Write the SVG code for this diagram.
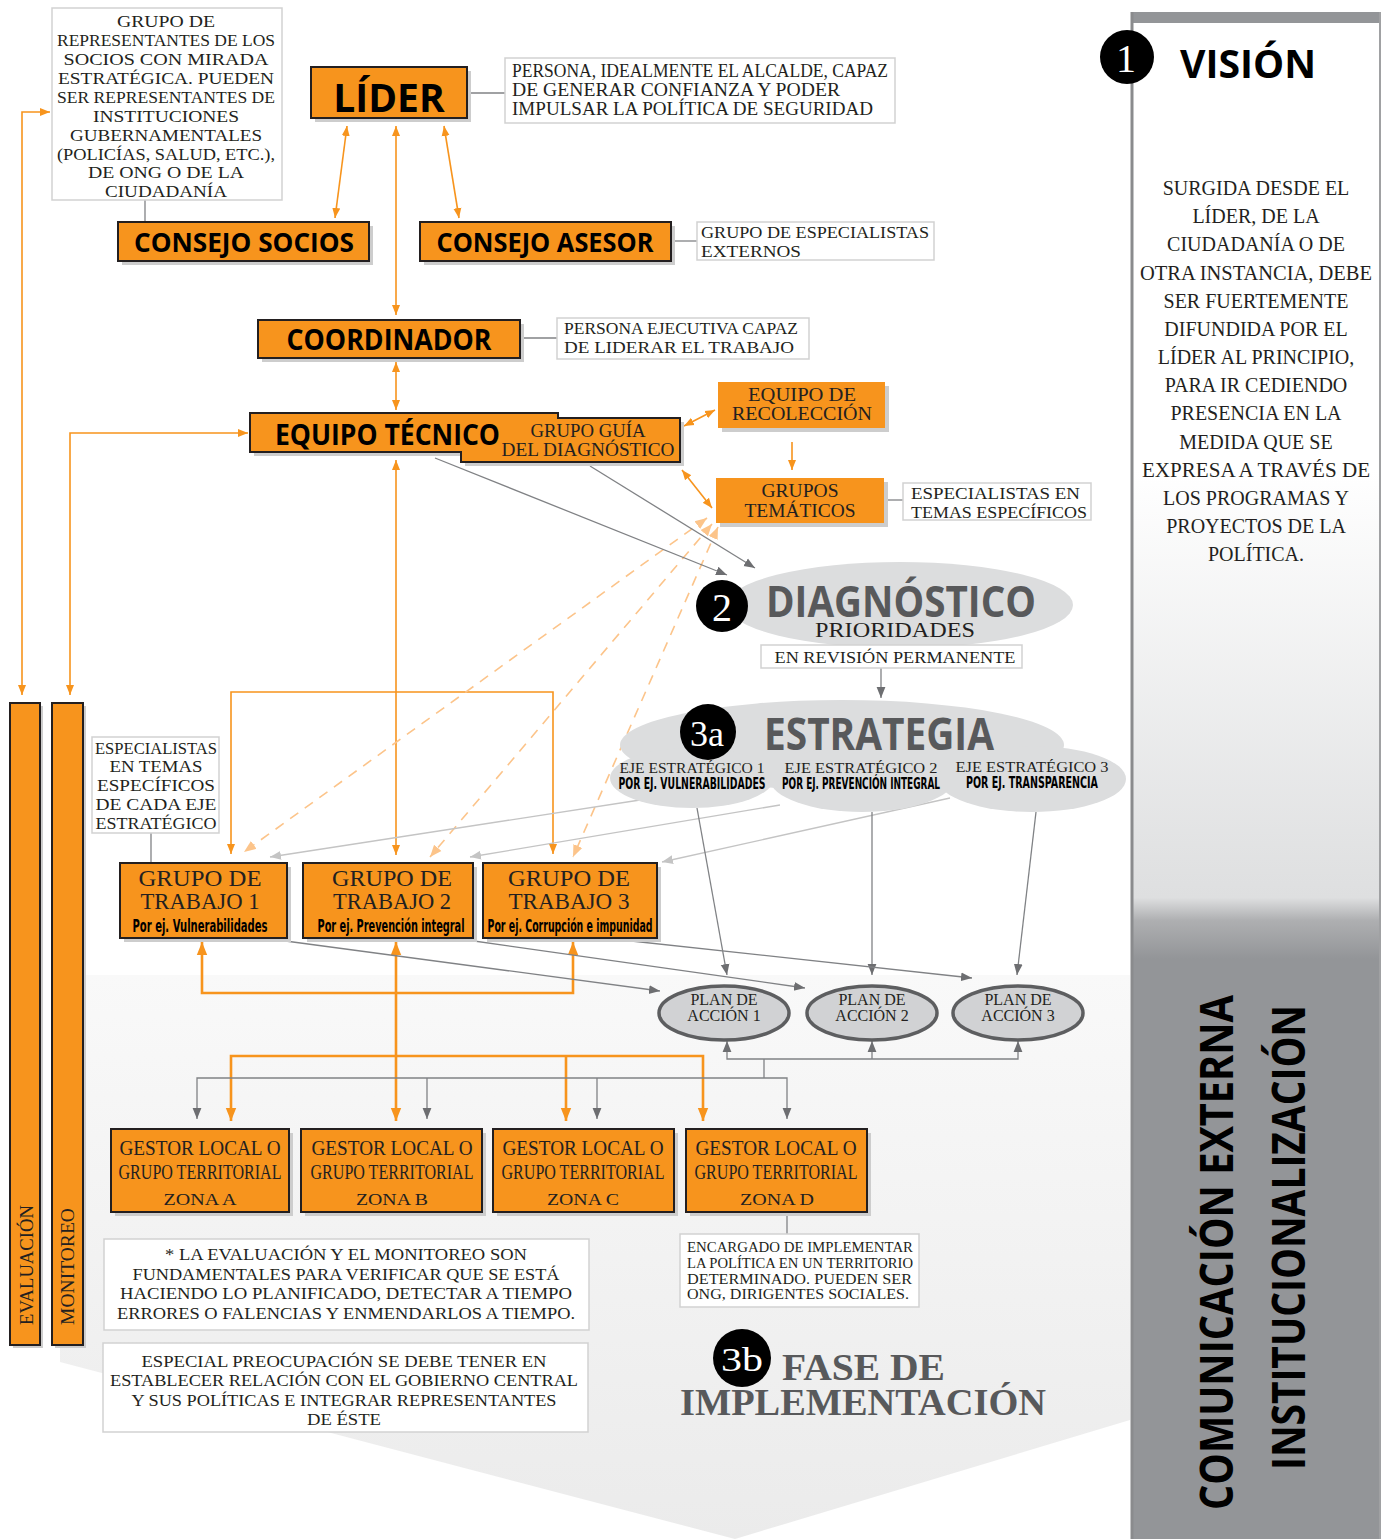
<svg xmlns="http://www.w3.org/2000/svg" width="1384" height="1539" viewBox="0 0 1384 1539">
<style>
.ob{fill:#f7941d;stroke:#231f20;stroke-width:2}
.of{fill:#f7941d}
.sh{fill:#cdcdcd}
.nb{fill:#fff;stroke:#d2d2d2;stroke-width:1.5}
.t{font-family:"Liberation Serif","Times New Roman",serif;fill:#231f20}
.b{font-family:"Open Sans","Liberation Sans",sans-serif;font-weight:700;fill:#000}
.g{fill:#58595b}
.c{font-family:"Liberation Sans Narrow","DejaVu Sans Condensed","Liberation Sans",sans-serif;font-weight:700;fill:#000}
.m{text-anchor:middle}
.w{fill:#fff}
.lo{stroke:#f7941d;stroke-width:1.6;fill:none}
.lt{stroke:#f7941d;stroke-width:2.6;fill:none}
.lg{stroke:#808285;stroke-width:1.3;fill:none}
.ll{stroke:#c4c4c4;stroke-width:1.3;fill:none}
.ld{stroke:#fcc48a;stroke-width:1.6;stroke-dasharray:10 8;fill:none}
.el{fill:#dcddde}
.pl{fill:#d1d2d4;stroke:#5d5e60;stroke-width:3.5}
</style>
<defs>
<linearGradient id="pg" x1="0" y1="12" x2="0" y2="1539" gradientUnits="userSpaceOnUse">
<stop offset="0" stop-color="#ffffff"/>
<stop offset="0.3" stop-color="#ffffff"/>
<stop offset="0.58" stop-color="#dedfe0"/>
<stop offset="0.595" stop-color="#aeafb1"/>
<stop offset="0.62" stop-color="#939598"/>
<stop offset="1" stop-color="#939598"/>
</linearGradient>
<linearGradient id="bg" x1="0" y1="0" x2="0" y2="1">
<stop offset="0" stop-color="#f9f9f9"/>
<stop offset="1" stop-color="#ebebeb"/>
</linearGradient>
<marker id="ao" viewBox="0 0 10 10" refX="10" refY="5" markerWidth="10" markerHeight="10" markerUnits="userSpaceOnUse" orient="auto-start-reverse"><path d="M0,1 L10,5 L0,9 z" fill="#f7941d"/></marker>
<marker id="at" viewBox="0 0 10 10" refX="10" refY="5" markerWidth="13" markerHeight="13" markerUnits="userSpaceOnUse" orient="auto-start-reverse"><path d="M0,1 L10,5 L0,9 z" fill="#f7941d"/></marker>
<marker id="ad" viewBox="0 0 10 10" refX="10" refY="5" markerWidth="12" markerHeight="12" markerUnits="userSpaceOnUse" orient="auto-start-reverse"><path d="M0,1 L10,5 L0,9 z" fill="#fcc48a"/></marker>
<marker id="ag" viewBox="0 0 10 10" refX="10" refY="5" markerWidth="11" markerHeight="11" markerUnits="userSpaceOnUse" orient="auto-start-reverse"><path d="M0,1 L10,5 L0,9 z" fill="#6d6e71"/></marker>
<marker id="al" viewBox="0 0 10 10" refX="10" refY="5" markerWidth="11" markerHeight="11" markerUnits="userSpaceOnUse" orient="auto-start-reverse"><path d="M0,1 L10,5 L0,9 z" fill="#c4c4c4"/></marker>
</defs>

<rect width="1384" height="1539" fill="#ffffff"/>
<polygon points="60,975 1130,975 1130,1420 735,1539 60,1362" fill="url(#bg)"/>

<g id="panel-vision">
<rect x="1131" y="12" width="250" height="1527" fill="url(#pg)"/>
<rect x="1131" y="12" width="250" height="11" fill="#939598"/>
<line x1="1132" y1="12" x2="1132" y2="1539" stroke="#8a8b8d" stroke-width="3"/>
<line x1="1380" y1="12" x2="1380" y2="1539" stroke="#a0a1a3" stroke-width="2"/>
<circle cx="1127" cy="57" r="27" fill="#000"/>
<text class="t w m" x="1126" y="72" font-size="40">1</text>
<text class="b" x="1180" y="78" font-size="40" textLength="136" lengthAdjust="spacingAndGlyphs">VISIÓN</text>
<g class="t m" font-size="20">
<text x="1256" y="195">SURGIDA DESDE EL</text>
<text x="1256" y="223">LÍDER, DE LA</text>
<text x="1256" y="251">CIUDADANÍA O DE</text>
<text x="1256" y="280" textLength="232" lengthAdjust="spacingAndGlyphs">OTRA INSTANCIA, DEBE</text>
<text x="1256" y="308">SER FUERTEMENTE</text>
<text x="1256" y="336">DIFUNDIDA POR EL</text>
<text x="1256" y="364">LÍDER AL PRINCIPIO,</text>
<text x="1256" y="392">PARA IR CEDIENDO</text>
<text x="1256" y="420">PRESENCIA EN LA</text>
<text x="1256" y="449">MEDIDA QUE SE</text>
<text x="1256" y="477" textLength="228" lengthAdjust="spacingAndGlyphs">EXPRESA A TRAVÉS DE</text>
<text x="1256" y="505">LOS PROGRAMAS Y</text>
<text x="1256" y="533">PROYECTOS DE LA</text>
<text x="1256" y="561">POLÍTICA.</text>
</g>
<text class="b" transform="translate(1233,1510) rotate(-90)" font-size="46" textLength="515" lengthAdjust="spacingAndGlyphs">COMUNICACIÓN EXTERNA</text>
<text class="b" transform="translate(1305,1470) rotate(-90)" font-size="46" textLength="465" lengthAdjust="spacingAndGlyphs">INSTITUCIONALIZACIÓN</text>
</g>

<g id="connectors">
<line class="lg" x1="145" y1="200" x2="145" y2="222"/>
<line class="lg" x1="467" y1="93" x2="505" y2="93"/>
<line class="lg" x1="671" y1="241" x2="697" y2="241"/>
<line class="lg" x1="520" y1="338" x2="557" y2="338"/>
<line class="lg" x1="884" y1="500" x2="903" y2="500"/>
<line class="lg" x1="151" y1="833" x2="151" y2="862"/>
<line class="lg" x1="787" y1="1212" x2="787" y2="1234"/>

<line class="lo" x1="347" y1="126" x2="335" y2="218" marker-start="url(#ao)" marker-end="url(#ao)"/>
<line class="lo" x1="444" y1="126" x2="459" y2="218" marker-start="url(#ao)" marker-end="url(#ao)"/>
<line class="lo" x1="396" y1="126" x2="396" y2="315" marker-start="url(#ao)" marker-end="url(#ao)"/>
<line class="lo" x1="396" y1="362" x2="396" y2="410" marker-start="url(#ao)" marker-end="url(#ao)"/>
<line class="lo" x1="684" y1="426" x2="715" y2="410" marker-start="url(#ao)" marker-end="url(#ao)"/>
<line class="lo" x1="792" y1="442" x2="792" y2="470" marker-end="url(#ao)"/>
<line class="lo" x1="682" y1="470" x2="712" y2="508" marker-start="url(#ao)" marker-end="url(#ao)"/>
<path class="lo" d="M22,695 V112 H50" marker-start="url(#ao)" marker-end="url(#ao)"/>
<path class="lo" d="M70,695 V433 H248" marker-start="url(#ao)" marker-end="url(#ao)"/>
<line class="lo" x1="396" y1="460" x2="396" y2="855" marker-start="url(#ao)" marker-end="url(#ao)"/>
<path class="lo" d="M231,854 V692 H553 V854" marker-start="url(#ao)" marker-end="url(#ao)"/>

<path class="lt" d="M202,942 V993 H573 V942" marker-start="url(#at)" marker-end="url(#at)"/>
<line class="lt" x1="396" y1="942" x2="396" y2="1121" marker-start="url(#at)" marker-end="url(#at)"/>
<path class="lt" d="M231,1121 V1056 H703 V1121" marker-start="url(#at)" marker-end="url(#at)"/>
<line class="lt" x1="566" y1="1056" x2="566" y2="1121" marker-end="url(#at)"/>

<line class="ld" x1="707" y1="518" x2="244" y2="852" marker-start="url(#ad)" marker-end="url(#ad)"/>
<line class="ld" x1="712" y1="524" x2="430" y2="857" marker-start="url(#ad)" marker-end="url(#ad)"/>
<line class="ld" x1="718" y1="527" x2="573" y2="857" marker-start="url(#ad)" marker-end="url(#ad)"/>

<line class="lg" x1="435" y1="458" x2="727" y2="575" marker-end="url(#ag)"/>
<line class="lg" x1="590" y1="466" x2="755" y2="568" marker-end="url(#ag)"/>
<line class="lg" x1="881" y1="668" x2="881" y2="698" marker-end="url(#ag)"/>

<line class="ll" x1="640" y1="800" x2="270" y2="857" marker-end="url(#al)"/>
<line class="ll" x1="780" y1="805" x2="470" y2="857" marker-end="url(#al)"/>
<line class="ll" x1="950" y1="798" x2="662" y2="862" marker-end="url(#al)"/>

<line class="lg" x1="697" y1="808" x2="727" y2="975" marker-end="url(#ag)"/>
<line class="lg" x1="872" y1="812" x2="872" y2="975" marker-end="url(#ag)"/>
<line class="lg" x1="1036" y1="812" x2="1017" y2="975" marker-end="url(#ag)"/>
<line class="lg" x1="278" y1="940" x2="660" y2="991" marker-end="url(#ag)"/>
<line class="lg" x1="467" y1="940" x2="805" y2="988" marker-end="url(#ag)"/>
<line class="lg" x1="622" y1="940" x2="972" y2="978" marker-end="url(#ag)"/>

<path class="lg" d="M727,1041 V1059 H1018 V1041" marker-start="url(#ag)" marker-end="url(#ag)"/>
<line class="lg" x1="872" y1="1059" x2="872" y2="1041" marker-end="url(#ag)"/>
<line class="lg" x1="764" y1="1059" x2="764" y2="1078"/>
<path class="lg" d="M197,1119 V1078 H787 V1119" marker-start="url(#ag)" marker-end="url(#ag)"/>
<line class="lg" x1="427" y1="1078" x2="427" y2="1119" marker-end="url(#ag)"/>
<line class="lg" x1="597" y1="1078" x2="597" y2="1119" marker-end="url(#ag)"/>
</g>

<g id="note-socios">
<rect class="nb" x="52" y="8" width="230" height="192"/>
<g class="t m" font-size="17">
<text x="166" y="27" textLength="98" lengthAdjust="spacingAndGlyphs">GRUPO DE</text>
<text x="166" y="46" textLength="218" lengthAdjust="spacingAndGlyphs">REPRESENTANTES DE LOS</text>
<text x="166" y="65" textLength="205" lengthAdjust="spacingAndGlyphs">SOCIOS CON MIRADA</text>
<text x="166" y="84" textLength="216" lengthAdjust="spacingAndGlyphs">ESTRATÉGICA. PUEDEN</text>
<text x="166" y="103" textLength="218" lengthAdjust="spacingAndGlyphs">SER REPRESENTANTES DE</text>
<text x="166" y="122" textLength="146" lengthAdjust="spacingAndGlyphs">INSTITUCIONES</text>
<text x="166" y="141" textLength="192" lengthAdjust="spacingAndGlyphs">GUBERNAMENTALES</text>
<text x="166" y="160" textLength="218" lengthAdjust="spacingAndGlyphs">(POLICÍAS, SALUD, ETC.),</text>
<text x="166" y="178" textLength="156" lengthAdjust="spacingAndGlyphs">DE ONG O DE LA</text>
<text x="166" y="197" textLength="122" lengthAdjust="spacingAndGlyphs">CIUDADANÍA</text>
</g>
</g>

<g id="lider">
<rect class="sh" x="315" y="71" width="156" height="51"/>
<rect class="ob" x="311" y="67" width="156" height="51"/>
<text class="b m" x="389" y="112" font-size="39">LÍDER</text>
</g>
<g id="note-lider">
<rect class="nb" x="505" y="58" width="390" height="65"/>
<g class="t" font-size="18">
<text x="512" y="77" textLength="376" lengthAdjust="spacingAndGlyphs">PERSONA, IDEALMENTE EL ALCALDE, CAPAZ</text>
<text x="512" y="96" textLength="328" lengthAdjust="spacingAndGlyphs">DE GENERAR CONFIANZA Y PODER</text>
<text x="512" y="115" textLength="361" lengthAdjust="spacingAndGlyphs">IMPULSAR LA POLÍTICA DE SEGURIDAD</text>
</g>
</g>

<g id="consejo-socios">
<rect class="sh" x="122" y="226" width="251" height="39"/>
<rect class="ob" x="118" y="222" width="251" height="39"/>
<text class="b m" x="244" y="252" font-size="27" textLength="220" lengthAdjust="spacingAndGlyphs">CONSEJO SOCIOS</text>
</g>
<g id="consejo-asesor">
<rect class="sh" x="424" y="226" width="251" height="39"/>
<rect class="ob" x="420" y="222" width="251" height="39"/>
<text class="b m" x="545" y="252" font-size="27" textLength="217" lengthAdjust="spacingAndGlyphs">CONSEJO ASESOR</text>
</g>
<g id="note-asesor">
<rect class="nb" x="697" y="222" width="237" height="38"/>
<g class="t" font-size="17">
<text x="701" y="238" textLength="228" lengthAdjust="spacingAndGlyphs">GRUPO DE ESPECIALISTAS</text>
<text x="701" y="257" textLength="100" lengthAdjust="spacingAndGlyphs">EXTERNOS</text>
</g>
</g>

<g id="coordinador">
<rect class="sh" x="262" y="324" width="262" height="38"/>
<rect class="ob" x="258" y="320" width="262" height="38"/>
<text class="b m" x="389" y="350" font-size="28" textLength="205" lengthAdjust="spacingAndGlyphs">COORDINADOR</text>
</g>
<g id="note-coordinador">
<rect class="nb" x="557" y="318" width="252" height="41"/>
<g class="t" font-size="17">
<text x="564" y="334" textLength="234" lengthAdjust="spacingAndGlyphs">PERSONA EJECUTIVA CAPAZ</text>
<text x="564" y="353" textLength="230" lengthAdjust="spacingAndGlyphs">DE LIDERAR EL TRABAJO</text>
</g>
</g>

<g id="equipo-tecnico">
<path class="sh" d="M254,417 H562 V422 H684 V466 H465 V456 H254 Z"/>
<path class="ob" d="M250,413 H558 V418 H680 V462 H461 V452 H250 Z"/>
<text class="b" x="275" y="445" font-size="28" textLength="225" lengthAdjust="spacingAndGlyphs">EQUIPO TÉCNICO</text>
<g class="t m" font-size="18">
<text x="588" y="437" textLength="115" lengthAdjust="spacingAndGlyphs">GRUPO GUÍA</text>
<text x="588" y="456" textLength="173" lengthAdjust="spacingAndGlyphs">DEL DIAGNÓSTICO</text>
</g>
</g>

<g id="equipo-recoleccion">
<rect class="sh" x="722" y="386" width="167" height="46"/>
<rect class="of" x="718" y="382" width="167" height="46"/>
<g class="t m" font-size="18">
<text x="802" y="401" textLength="108" lengthAdjust="spacingAndGlyphs">EQUIPO DE</text>
<text x="802" y="420" textLength="140" lengthAdjust="spacingAndGlyphs">RECOLECCIÓN</text>
</g>
</g>

<g id="grupos-tematicos">
<rect class="sh" x="720" y="482" width="168" height="45"/>
<rect class="of" x="716" y="478" width="168" height="45"/>
<g class="t m" font-size="18">
<text x="800" y="497" textLength="77" lengthAdjust="spacingAndGlyphs">GRUPOS</text>
<text x="800" y="517" textLength="111" lengthAdjust="spacingAndGlyphs">TEMÁTICOS</text>
</g>
</g>
<g id="note-tematicos">
<rect class="nb" x="903" y="483" width="188" height="37"/>
<g class="t" font-size="17">
<text x="911" y="499" textLength="169" lengthAdjust="spacingAndGlyphs">ESPECIALISTAS EN</text>
<text x="911" y="518" textLength="176" lengthAdjust="spacingAndGlyphs">TEMAS ESPECÍFICOS</text>
</g>
</g>

<g id="diagnostico">
<ellipse class="el" cx="900" cy="605" rx="173" ry="43"/>
<circle cx="722" cy="606" r="26" fill="#000"/>
<text class="t w m" x="722" y="621" font-size="40">2</text>
<text class="b g" x="766" y="617" font-size="43" textLength="270" lengthAdjust="spacingAndGlyphs">DIAGNÓSTICO</text>
<text class="t m" x="895" y="637" font-size="22" textLength="160" lengthAdjust="spacingAndGlyphs">PRIORIDADES</text>
</g>
<g id="note-revision">
<rect class="nb" x="761" y="645" width="261" height="23"/>
<text class="t m" x="895" y="663" font-size="17" textLength="241" lengthAdjust="spacingAndGlyphs">EN REVISIÓN PERMANENTE</text>
</g>

<g id="estrategia">
<ellipse class="el" cx="842" cy="745" rx="222" ry="45"/>
<ellipse class="el" cx="692" cy="778" rx="82" ry="30"/>
<ellipse class="el" cx="862" cy="779" rx="92" ry="33"/>
<ellipse class="el" cx="1032" cy="779" rx="94" ry="33"/>
<circle cx="708" cy="732" r="28" fill="#000"/>
<text class="t w m" x="707" y="746" font-size="36">3a</text>
<text class="b g" x="764" y="750" font-size="44" textLength="230" lengthAdjust="spacingAndGlyphs">ESTRATEGIA</text>
<g class="t m" font-size="15">
<text x="692" y="773" textLength="145" lengthAdjust="spacingAndGlyphs">EJE ESTRATÉGICO 1</text>
<text x="861" y="773" textLength="153" lengthAdjust="spacingAndGlyphs">EJE ESTRATÉGICO 2</text>
<text x="1032" y="772" textLength="153" lengthAdjust="spacingAndGlyphs">EJE ESTRATÉGICO 3</text>
</g>
<g class="c m" font-size="15">
<text x="692" y="789" textLength="147" lengthAdjust="spacingAndGlyphs">POR EJ. VULNERABILIDADES</text>
<text x="861" y="789" textLength="158" lengthAdjust="spacingAndGlyphs">POR EJ. PREVENCIÓN INTEGRAL</text>
<text x="1032" y="788" textLength="132" lengthAdjust="spacingAndGlyphs">POR EJ. TRANSPARENCIA</text>
</g>
</g>

<g id="evaluacion">
<rect class="sh" x="13" y="706" width="30" height="642"/>
<rect class="ob" x="10" y="703" width="30" height="642"/>
<text class="t" transform="translate(33,1325) rotate(-90)" font-size="19" textLength="120" lengthAdjust="spacingAndGlyphs">EVALUACIÓN</text>
</g>
<g id="monitoreo">
<rect class="sh" x="55" y="706" width="31" height="642"/>
<rect class="ob" x="52" y="703" width="31" height="642"/>
<text class="t" transform="translate(74,1325) rotate(-90)" font-size="19" textLength="117" lengthAdjust="spacingAndGlyphs">MONITOREO</text>
</g>

<g id="note-especialistas-eje">
<rect class="nb" x="92" y="737" width="127" height="96"/>
<g class="t m" font-size="17">
<text x="156" y="754" textLength="122" lengthAdjust="spacingAndGlyphs">ESPECIALISTAS</text>
<text x="156" y="772" textLength="93" lengthAdjust="spacingAndGlyphs">EN TEMAS</text>
<text x="156" y="791" textLength="118" lengthAdjust="spacingAndGlyphs">ESPECÍFICOS</text>
<text x="156" y="810" textLength="121" lengthAdjust="spacingAndGlyphs">DE CADA EJE</text>
<text x="156" y="829" textLength="121" lengthAdjust="spacingAndGlyphs">ESTRATÉGICO</text>
</g>
</g>

<g id="grupo-trabajo-1">
<rect class="sh" x="124" y="867" width="167" height="75"/>
<rect class="ob" x="120" y="863" width="167" height="75"/>
<g class="t m" font-size="23">
<text x="200" y="886" textLength="123" lengthAdjust="spacingAndGlyphs">GRUPO DE</text>
<text x="200" y="909" textLength="119" lengthAdjust="spacingAndGlyphs">TRABAJO 1</text>
</g>
<text class="c m" x="200" y="932" font-size="18" textLength="135" lengthAdjust="spacingAndGlyphs">Por ej. Vulnerabilidades</text>
</g>
<g id="grupo-trabajo-2">
<rect class="sh" x="307" y="867" width="170" height="75"/>
<rect class="ob" x="303" y="863" width="170" height="75"/>
<g class="t m" font-size="23">
<text x="392" y="886" textLength="120" lengthAdjust="spacingAndGlyphs">GRUPO DE</text>
<text x="392" y="909" textLength="118" lengthAdjust="spacingAndGlyphs">TRABAJO 2</text>
</g>
<text class="c m" x="391" y="932" font-size="18" textLength="147" lengthAdjust="spacingAndGlyphs">Por ej. Prevención integral</text>
</g>
<g id="grupo-trabajo-3">
<rect class="sh" x="487" y="867" width="174" height="75"/>
<rect class="ob" x="483" y="863" width="174" height="75"/>
<g class="t m" font-size="23">
<text x="569" y="886" textLength="122" lengthAdjust="spacingAndGlyphs">GRUPO DE</text>
<text x="569" y="909" textLength="121" lengthAdjust="spacingAndGlyphs">TRABAJO 3</text>
</g>
<text class="c m" x="570" y="932" font-size="18" textLength="165" lengthAdjust="spacingAndGlyphs">Por ej. Corrupción e impunidad</text>
</g>

<g id="plan-1">
<ellipse class="pl" cx="724" cy="1013" rx="65" ry="27"/>
<g class="t m" font-size="16" fill="#333"><text x="724" y="1005">PLAN DE</text><text x="724" y="1021">ACCIÓN 1</text></g>
</g>
<g id="plan-2">
<ellipse class="pl" cx="872" cy="1013" rx="65" ry="27"/>
<g class="t m" font-size="16" fill="#333"><text x="872" y="1005">PLAN DE</text><text x="872" y="1021">ACCIÓN 2</text></g>
</g>
<g id="plan-3">
<ellipse class="pl" cx="1018" cy="1013" rx="65" ry="27"/>
<g class="t m" font-size="16" fill="#333"><text x="1018" y="1005">PLAN DE</text><text x="1018" y="1021">ACCIÓN 3</text></g>
</g>

<g id="gestor-a">
<rect class="sh" x="115" y="1133" width="178" height="83"/>
<rect class="ob" x="111" y="1129" width="178" height="83"/>
<g class="t m"><text x="200" y="1155" font-size="22" textLength="161" lengthAdjust="spacingAndGlyphs">GESTOR LOCAL O</text><text x="200" y="1179" font-size="22" textLength="163" lengthAdjust="spacingAndGlyphs">GRUPO TERRITORIAL</text><text x="200" y="1205" font-size="17" textLength="73" lengthAdjust="spacingAndGlyphs">ZONA A</text></g>
</g>
<g id="gestor-b">
<rect class="sh" x="305" y="1133" width="181" height="83"/>
<rect class="ob" x="301" y="1129" width="181" height="83"/>
<g class="t m"><text x="392" y="1155" font-size="22" textLength="161" lengthAdjust="spacingAndGlyphs">GESTOR LOCAL O</text><text x="392" y="1179" font-size="22" textLength="163" lengthAdjust="spacingAndGlyphs">GRUPO TERRITORIAL</text><text x="392" y="1205" font-size="17" textLength="72" lengthAdjust="spacingAndGlyphs">ZONA B</text></g>
</g>
<g id="gestor-c">
<rect class="sh" x="497" y="1133" width="181" height="83"/>
<rect class="ob" x="493" y="1129" width="181" height="83"/>
<g class="t m"><text x="583" y="1155" font-size="22" textLength="161" lengthAdjust="spacingAndGlyphs">GESTOR LOCAL O</text><text x="583" y="1179" font-size="22" textLength="163" lengthAdjust="spacingAndGlyphs">GRUPO TERRITORIAL</text><text x="583" y="1205" font-size="17" textLength="72" lengthAdjust="spacingAndGlyphs">ZONA C</text></g>
</g>
<g id="gestor-d">
<rect class="sh" x="690" y="1133" width="181" height="83"/>
<rect class="ob" x="686" y="1129" width="181" height="83"/>
<g class="t m"><text x="776" y="1155" font-size="22" textLength="161" lengthAdjust="spacingAndGlyphs">GESTOR LOCAL O</text><text x="776" y="1179" font-size="22" textLength="163" lengthAdjust="spacingAndGlyphs">GRUPO TERRITORIAL</text><text x="777" y="1205" font-size="17" textLength="74" lengthAdjust="spacingAndGlyphs">ZONA D</text></g>
</g>

<g id="note-encargado">
<rect class="nb" x="680" y="1234" width="239" height="73"/>
<g class="t" font-size="14.5">
<text x="687" y="1252" textLength="226" lengthAdjust="spacingAndGlyphs">ENCARGADO DE IMPLEMENTAR</text>
<text x="687" y="1268" textLength="226" lengthAdjust="spacingAndGlyphs">LA POLÍTICA EN UN TERRITORIO</text>
<text x="687" y="1284" textLength="225" lengthAdjust="spacingAndGlyphs">DETERMINADO. PUEDEN SER</text>
<text x="687" y="1299" textLength="222" lengthAdjust="spacingAndGlyphs">ONG, DIRIGENTES SOCIALES.</text>
</g>
</g>

<g id="note-evaluacion">
<rect class="nb" x="104" y="1239" width="485" height="91"/>
<g class="t m" font-size="17">
<text x="346" y="1260" textLength="362" lengthAdjust="spacingAndGlyphs">* LA EVALUACIÓN Y EL MONITOREO SON</text>
<text x="346" y="1280" textLength="427" lengthAdjust="spacingAndGlyphs">FUNDAMENTALES PARA VERIFICAR QUE SE ESTÁ</text>
<text x="346" y="1299" textLength="452" lengthAdjust="spacingAndGlyphs">HACIENDO LO PLANIFICADO, DETECTAR A TIEMPO</text>
<text x="346" y="1319" textLength="458" lengthAdjust="spacingAndGlyphs">ERRORES O FALENCIAS Y ENMENDARLOS A TIEMPO.</text>
</g>
</g>
<g id="note-gobierno">
<rect class="nb" x="103" y="1343" width="485" height="89"/>
<g class="t m" font-size="17">
<text x="344" y="1367" textLength="405" lengthAdjust="spacingAndGlyphs">ESPECIAL PREOCUPACIÓN SE DEBE TENER EN</text>
<text x="344" y="1386" textLength="468" lengthAdjust="spacingAndGlyphs">ESTABLECER RELACIÓN CON EL GOBIERNO CENTRAL</text>
<text x="344" y="1406" textLength="425" lengthAdjust="spacingAndGlyphs">Y SUS POLÍTICAS E INTEGRAR REPRESENTANTES</text>
<text x="344" y="1425" textLength="74" lengthAdjust="spacingAndGlyphs">DE ÉSTE</text>
</g>
</g>

<g id="fase-implementacion">
<circle cx="742" cy="1358" r="29" fill="#000"/>
<text class="t w m" x="742" y="1371" font-size="34" textLength="42" lengthAdjust="spacingAndGlyphs">3b</text>
<text class="t g" x="782" y="1380" font-size="38" font-weight="700" textLength="163" lengthAdjust="spacingAndGlyphs">FASE DE</text>
<text class="t g" x="680" y="1415" font-size="38" font-weight="700" textLength="366" lengthAdjust="spacingAndGlyphs">IMPLEMENTACIÓN</text>
</g>
</svg>
